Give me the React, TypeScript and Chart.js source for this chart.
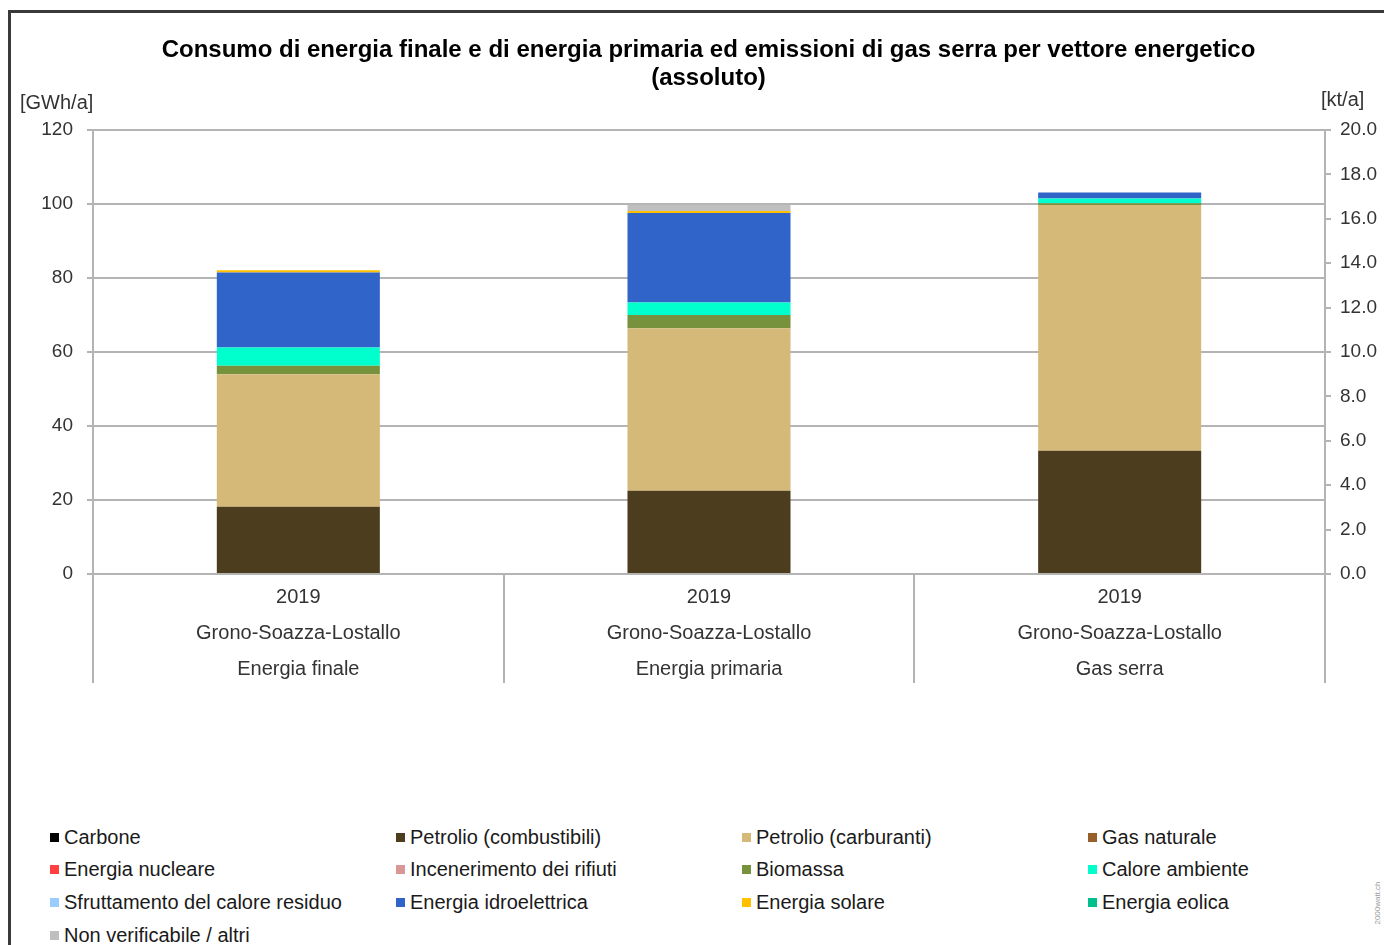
import React, { useEffect, useRef } from "react";
import { Chart, registerables } from "chart.js";

Chart.register(...registerables);

const FONT = "'Liberation Sans', Arial, sans-serif";

const titleLines = [
  "Consumo di energia finale e di energia primaria ed emissioni di gas serra per vettore energetico",
  "(assoluto)",
];

const categories = [
  ["2019", "Grono-Soazza-Lostallo", "Energia finale"],
  ["2019", "Grono-Soazza-Lostallo", "Energia primaria"],
  ["2019", "Grono-Soazza-Lostallo", "Gas serra"],
];

const leftUnit = "[GWh/a]";
const rightUnit = "[kt/a]";
const leftMin = 0;
const leftMax = 120;
const leftStep = 20;
const rightMin = 0;
const rightMax = 20;
const rightStep = 2;

const seriesNames = [
  "Carbone",
  "Petrolio (combustibili)",
  "Petrolio (carburanti)",
  "Gas naturale",
  "Energia nucleare",
  "Incenerimento dei rifiuti",
  "Biomassa",
  "Calore ambiente",
  "Sfruttamento del calore residuo",
  "Energia idroelettrica",
  "Energia solare",
  "Energia eolica",
  "Non verificabile / altri",
];

const seriesColors = [
  "#000000",
  "#4b3d1d",
  "#d4b978",
  "#97602a",
  "#ff4040",
  "#d99795",
  "#76923c",
  "#00ffcc",
  "#99ccff",
  "#3064c8",
  "#ffc000",
  "#00c08e",
  "#bfbfbf",
];

// values: [Energia finale (GWh/a), Energia primaria (GWh/a), Gas serra (kt/a)]
const carbone = [0, 0, 0];
const petrolioCombustibili = [18.2, 22.5, 5.55];
const petrolioCarburanti = [35.8, 43.9, 11.07];
const gasNaturale = [0, 0, 0];
const energiaNucleare = [0, 0, 0];
const incenerimentoRifiuti = [0, 0, 0];
const biomassa = [2.3, 3.6, 0.08];
const caloreAmbiente = [4.9, 3.4, 0.22];
const caloreResiduo = [0, 0, 0];
const energiaIdroelettrica = [20.3, 24.2, 0.27];
const energiaSolare = [0.6, 0.5, 0];
const energiaEolica = [0, 0, 0];
const nonVerificabile = [0, 1.7, 0];

const seriesValues = [
  carbone,
  petrolioCombustibili,
  petrolioCarburanti,
  gasNaturale,
  energiaNucleare,
  incenerimentoRifiuti,
  biomassa,
  caloreAmbiente,
  caloreResiduo,
  energiaIdroelettrica,
  energiaSolare,
  energiaEolica,
  nonVerificabile,
];

const GRID = "#b4b4b4";
const SEP_LEN = 109;

const separatorPlugin = {
  id: "categorySeparators",
  afterDraw(chart: any) {
    const xs = chart.scales.x;
    const { ctx, chartArea } = chart;
    const n = xs.getLabels().length;
    const w = (xs.right - xs.left) / n;
    ctx.save();
    ctx.strokeStyle = GRID;
    ctx.lineWidth = 2;
    for (let i = 0; i <= n; i++) {
      const x = Math.round(xs.left + i * w);
      ctx.beginPath();
      ctx.moveTo(x, chartArea.bottom);
      ctx.lineTo(x, chartArea.bottom + SEP_LEN);
      ctx.stroke();
    }
    ctx.restore();
  },
};

function ChartCanvas() {
  const ref = useRef<HTMLCanvasElement | null>(null);
  useEffect(() => {
    if (!ref.current) return;
    const datasets: any[] = [];
    seriesNames.forEach((name, i) => {
      const v = seriesValues[i];
      datasets.push({
        label: name,
        data: [v[0], v[1], null],
        backgroundColor: seriesColors[i],
        borderWidth: 0,
        yAxisID: "y",
        stack: "s",
      });
      datasets.push({
        label: name,
        data: [null, null, v[2]],
        backgroundColor: seriesColors[i],
        borderWidth: 0,
        yAxisID: "y1",
        stack: "s",
      });
    });
    const chart = new Chart(ref.current, {
      type: "bar",
      data: { labels: categories as any, datasets },
      plugins: [separatorPlugin],
      options: {
        animation: false,
        responsive: false,
        maintainAspectRatio: false,
        layout: { padding: { left: 33, right: 0, top: 0, bottom: 17 } },
        datasets: { bar: { barPercentage: 0.397, categoryPercentage: 1 } } as any,
        plugins: {
          legend: { display: false },
          tooltip: { enabled: false },
          title: {
            display: true,
            text: titleLines,
            color: "#000",
            font: { family: FONT, size: 24, weight: "bold", lineHeight: 28 / 24 },
            padding: { top: 36, bottom: 38 },
          },
        },
        scales: {
          x: {
            stacked: true,
            offset: true,
            grid: { display: false, drawTicks: false },
            border: { display: true, color: GRID, width: 2 },
            ticks: {
              color: "#333",
              font: { family: FONT, size: 20, lineHeight: 1.8 },
              padding: 5,
              maxRotation: 0,
              autoSkip: false,
            },
            afterFit: (s: any) => {
              s.height = SEP_LEN;
            },
          },
          y: {
            stacked: true,
            position: "left",
            min: leftMin,
            max: leftMax,
            ticks: {
              stepSize: leftStep,
              color: "#333",
              font: { family: FONT, size: 19 },
              padding: 14,
            },
            grid: { color: GRID, lineWidth: 2, drawTicks: true, tickLength: 6 },
            border: { color: GRID, width: 2 },
            afterFit: (s: any) => {
              s.width = 60;
            },
          },
          y1: {
            stacked: true,
            position: "right",
            min: rightMin,
            max: rightMax,
            ticks: {
              stepSize: rightStep,
              color: "#333",
              font: { family: FONT, size: 19 },
              padding: 9,
              callback: (v: any) => Number(v).toFixed(1),
            },
            grid: { drawOnChartArea: false, color: GRID, lineWidth: 2, drawTicks: true, tickLength: 6 },
            border: { color: GRID, width: 2 },
            afterFit: (s: any) => {
              s.width = 59;
            },
          },
        },
      } as any,
    });
    return () => chart.destroy();
  }, []);
  return (
    <canvas
      ref={ref}
      width={1384}
      height={700}
      style={{ position: "absolute", left: 0, top: 0, width: 1384, height: 700 }}
    />
  );
}

const legendColX = [50, 396, 742, 1088];
const legendRowY = [837, 869.7, 902.3, 935];

export default function App() {
  return (
    <div
      style={{
        position: "fixed",
        left: 0,
        top: 0,
        width: 1384,
        height: 945,
        background: "#fff",
        overflow: "hidden",
        fontFamily: FONT,
      }}
    >
      <div
        style={{
          position: "absolute",
          left: 8,
          top: 10,
          width: 1400,
          height: 960,
          borderLeft: "3px solid #3a3a3a",
          borderTop: "3px solid #3a3a3a",
        }}
      />
      <ChartCanvas />
      <div style={{ position: "absolute", left: 20, top: 91, fontSize: 20, lineHeight: "22px", color: "#333" }}>
        {leftUnit}
      </div>
      <div style={{ position: "absolute", left: 1321, top: 88, fontSize: 20, lineHeight: "22px", color: "#333" }}>
        {rightUnit}
      </div>
      {seriesNames.map((name, i) => {
        const col = i % 4;
        const row = Math.floor(i / 4);
        return (
          <div
            key={name}
            style={{
              position: "absolute",
              left: legendColX[col],
              top: legendRowY[row] - 12,
              height: 24,
              display: "flex",
              alignItems: "center",
              whiteSpace: "nowrap",
              fontSize: 20,
              color: "#1a1a1a",
            }}
          >
            <span
              style={{
                display: "inline-block",
                width: 9,
                height: 9,
                background: seriesColors[i],
                marginRight: 5,
              }}
            />
            <span>{name}</span>
          </div>
        );
      })}
      <div
        style={{
          position: "absolute",
          left: 1377,
          top: 903,
          fontSize: 8,
          color: "#999",
          transform: "translate(-50%, -50%) rotate(-90deg)",
          whiteSpace: "nowrap",
        }}
      >
        2000watt.ch
      </div>
    </div>
  );
}
